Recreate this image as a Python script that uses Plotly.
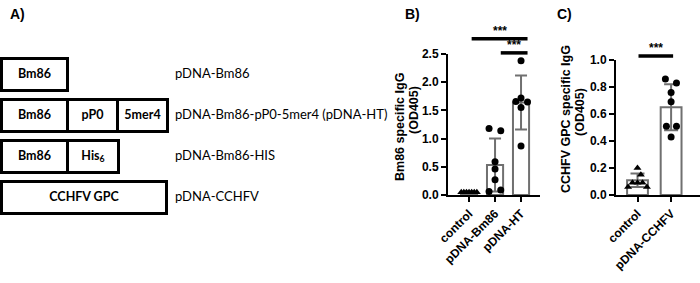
import plotly.graph_objects as go

# ---------------- data ----------------
# Panel A: constructs and their segments
constructs = ["pDNA-Bm86", "pDNA-Bm86-pP0-5mer4 (pDNA-HT)", "pDNA-Bm86-HIS", "pDNA-CCHFV"]
segment_names = [["Bm86"], ["Bm86", "pP0", "5mer4"], ["Bm86", "His<sub>6</sub>"], ["CCHFV GPC"]]
segment_lengths = [[66], [66, 50, 50], [66, 51], [165]]

# Panel B: Bm86 specific IgG (OD405)
b_groups = ["control", "pDNA-Bm86", "pDNA-HT"]
b_means = [0.05, 0.53, 1.64]
b_sd = [0.01, 0.47, 0.48]
b_points = [
    [0.05, 0.05, 0.05, 0.05, 0.05, 0.05, 0.05],
    [1.18, 1.14, 0.59, 0.46, 0.27, 0.06, 0.09],
    [2.38, 1.72, 1.66, 1.65, 1.55, 0.87],
]
b_jitter = [
    [-0.3, -0.2, -0.1, 0.0, 0.1, 0.2, 0.3],
    [-0.23, 0.22, 0.0, 0.0, 0.0, -0.23, 0.22],
    [0.0, 0.0, -0.2, 0.25, 0.0, 0.0],
]
b_sig = [(0.1, 2.25, 2.77, "***"), (1.22, 2.25, 2.52, "***")]
b_title = ["Bm86 specific IgG", "(OD405)"]

# Panel C: CCHFV GPC specific IgG (OD405)
c_groups = ["control", "pDNA-CCHFV"]
c_means = [0.11, 0.65]
c_sd = [0.05, 0.17]
c_points = [
    [0.20, 0.15, 0.09, 0.09, 0.09, 0.06, 0.06],
    [0.86, 0.83, 0.76, 0.69, 0.51, 0.51, 0.43],
]
c_jitter = [
    [0.0, 0.1, -0.15, 0.0, 0.15, -0.28, 0.28],
    [-0.17, 0.16, 0.0, 0.0, -0.14, 0.16, 0.0],
]
c_sig = [(0.03, 1.06, 1.03, "***")]
c_title = ["CCHFV GPC specific IgG", "(OD405)"]

# ---------------- layout helpers ----------------
W, H = 700, 283
def fx(p):
    return p / W
def fy(p):
    return 1 - p / H

GRAY = "#707070"
BOLD = "Liberation Sans"
LABEL_FONT = "Lato"

fig = go.Figure()

# ---------- Panel A (xaxis3/yaxis3) ----------
bx, by, bbase, tx, ty, tt = [], [], [], [], [], []
for c, names, lens in zip(constructs, segment_names, segment_lengths):
    start = 1.5
    for n, L in zip(names, lens):
        bx.append(L); by.append(c); bbase.append(start)
        tx.append(start + L / 2); ty.append(c); tt.append(n)
        start += L

fig.add_trace(go.Bar(
    x=bx, y=by, base=bbase, orientation="h", width=0.78,
    marker=dict(color="white", line=dict(color="black", width=3)),
    xaxis="x3", yaxis="y3", showlegend=False, hoverinfo="skip"))
fig.add_trace(go.Scatter(
    x=tx, y=ty, mode="text", text=tt, textposition="middle center",
    textfont=dict(family=LABEL_FONT, size=12.5, color="black", weight="bold"),
    xaxis="x3", yaxis="y3", showlegend=False, hoverinfo="skip", cliponaxis=False))
fig.add_trace(go.Scatter(
    x=[175] * len(constructs), y=constructs, mode="text", text=constructs,
    textposition="middle right",
    textfont=dict(family=LABEL_FONT, size=13, color="black"),
    xaxis="x3", yaxis="y3", showlegend=False, hoverinfo="skip", cliponaxis=False))

# ---------- Panel B ----------
fig.add_trace(go.Bar(
    x=list(range(len(b_groups))), y=b_means, width=0.62,
    marker=dict(color="white", line=dict(color=GRAY, width=2)),
    error_y=dict(type="data", array=b_sd, color=GRAY, thickness=2, width=6),
    xaxis="x", yaxis="y", showlegend=False, hoverinfo="skip"))
for i, (pts, jit) in enumerate(zip(b_points, b_jitter)):
    fig.add_trace(go.Scatter(
        x=[i + j for j in jit], y=pts, mode="markers",
        marker=dict(color="black", size=7,
                    symbol="triangle-up" if i == 0 else "circle"),
        xaxis="x", yaxis="y", showlegend=False, hoverinfo="skip", cliponaxis=False))

# ---------- Panel C ----------
fig.add_trace(go.Bar(
    x=list(range(len(c_groups))), y=c_means, width=0.62,
    marker=dict(color="white", line=dict(color=GRAY, width=2)),
    error_y=dict(type="data", array=c_sd, color=GRAY, thickness=2, width=7),
    xaxis="x2", yaxis="y2", showlegend=False, hoverinfo="skip"))
for i, (pts, jit) in enumerate(zip(c_points, c_jitter)):
    fig.add_trace(go.Scatter(
        x=[i + j for j in jit], y=pts, mode="markers",
        marker=dict(color="black", size=7,
                    symbol="triangle-up" if i == 0 else "circle"),
        xaxis="x2", yaxis="y2", showlegend=False, hoverinfo="skip", cliponaxis=False))

# axes geometry
B_X = (448, 540); B_Y = (195, 54); B_RANGE = (0, 2.5)
C_X = (616, 700); C_Y = (195, 60); C_RANGE = (0, 1.0)

tickfont = dict(family=BOLD, size=12, color="black", weight="bold")
titlefont = dict(family=BOLD, size=12.5, color="black", weight="bold")

common_y = dict(showline=True, linecolor="black", linewidth=2, ticks="outside",
                ticklen=5, tickwidth=2, tickcolor="black", showgrid=False,
                zeroline=False, tickfont=tickfont, automargin=False)
common_x = dict(showline=True, linecolor="black", linewidth=2, ticks="outside",
                ticklen=5, tickwidth=2, tickcolor="black", showgrid=False,
                zeroline=False, tickfont=tickfont, tickangle=-45, automargin=False)

fig.update_layout(
    width=W, height=H, margin=dict(l=0, r=0, t=0, b=0), autosize=False,
    template="none", paper_bgcolor="white", plot_bgcolor="rgba(0,0,0,0)",
    barmode="overlay",
    xaxis=dict(domain=[fx(B_X[0]), fx(B_X[1])], range=[-0.81, 2.73],
               tickvals=list(range(len(b_groups))), ticktext=b_groups,
               anchor="y", **common_x),
    yaxis=dict(domain=[fy(B_Y[0]), fy(B_Y[1])], range=list(B_RANGE),
               tickvals=[0, 0.5, 1.0, 1.5, 2.0, 2.5], tickformat=".1f",
               anchor="x", **common_y),
    xaxis2=dict(domain=[fx(C_X[0]), fx(C_X[1])], range=[-0.64, 1.86],
                tickvals=list(range(len(c_groups))), ticktext=c_groups,
                anchor="y2", **common_x),
    yaxis2=dict(domain=[fy(C_Y[0]), fy(C_Y[1])], range=list(C_RANGE),
                tickvals=[0, 0.2, 0.4, 0.6, 0.8, 1.0], tickformat=".1f",
                anchor="x2", **common_y),
    xaxis3=dict(domain=[0, fx(360)], range=[0, 360], visible=False, anchor="y3"),
    yaxis3=dict(domain=[fy(218), fy(54)], type="category",
                categoryarray=constructs, autorange="reversed",
                visible=False, anchor="x3"),
)

# rotated y-axis titles (two lines each, tightly spaced as in the original)
for lines, xs, ys in ((b_title, (400, 414), (127, 110)), (c_title, (566, 580), (119, 112))):
    for text, xp, yp in zip(lines, xs, ys):
        fig.add_annotation(x=fx(xp), y=fy(yp), xref="paper", yref="paper", text=text,
                           textangle=-90, showarrow=False, xanchor="center", yanchor="middle",
                           font=titlefont)

# significance bars
def to_paper(v, dom_px, rng):
    d0, d1 = fy(dom_px[0]), fy(dom_px[1])
    return d0 + (v - rng[0]) / (rng[1] - rng[0]) * (d1 - d0)

for xref, sigs, dom, rng in (("x", b_sig, B_Y, B_RANGE), ("x2", c_sig, C_Y, C_RANGE)):
    for x0, x1, yv, label in sigs:
        yp = to_paper(yv, dom, rng)
        fig.add_shape(type="line", xref=xref, yref="paper", x0=x0, x1=x1, y0=yp, y1=yp,
                      line=dict(color="black", width=3.5))
        fig.add_annotation(x=(x0 + x1) / 2, y=yp, xref=xref, yref="paper",
                           text=label, showarrow=False, yanchor="bottom", yshift=-1,
                           font=dict(family=BOLD, size=12, color="black", weight="bold"))

# panel letters
for letter, xp in (("A)", 8), ("B)", 403), ("C)", 555)):
    fig.add_annotation(x=fx(xp), y=fy(4), xref="paper", yref="paper", text=letter,
                       showarrow=False, xanchor="left", yanchor="top",
                       font=dict(family=BOLD, size=14, color="black", weight="bold"))

fig.write_html("out.html")
